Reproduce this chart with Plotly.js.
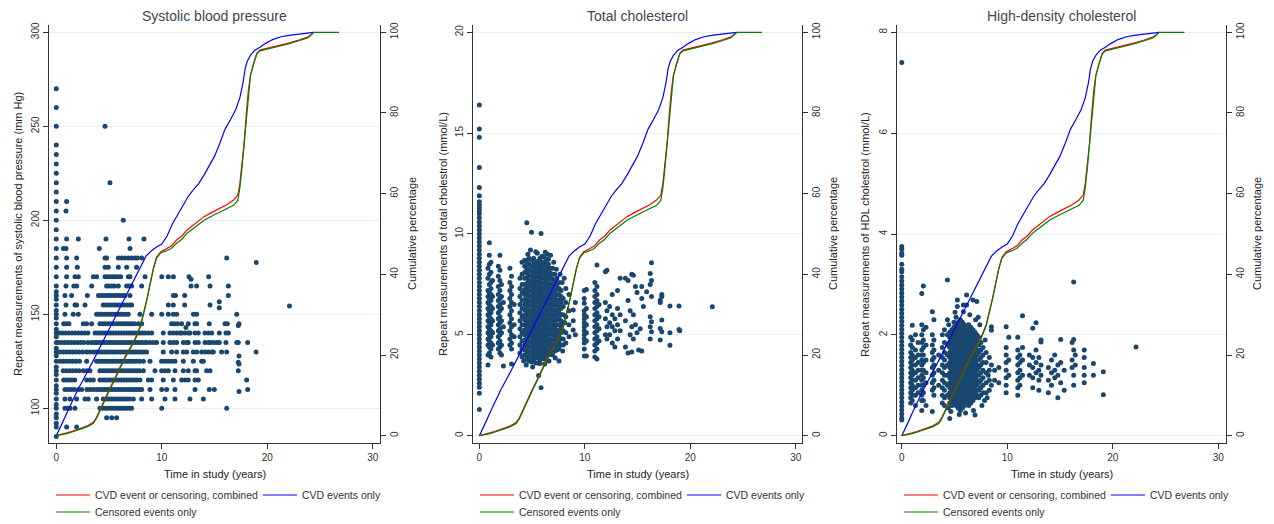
<!DOCTYPE html>
<html><head><meta charset="utf-8">
<script src="https://cdn.plot.ly/plotly-3.0.1.min.js"></script>
<style>html,body{margin:0;padding:0;background:#fff}#chart{width:1274px;height:524px}</style>
</head><body><div id="chart"></div>
<script>
// ---------- Panel titles / axis titles ----------
const panelTitles = ["Systolic blood pressure", "Total cholesterol", "High-density cholesterol"];
const leftTitles = ["Repeat measurements of systolic blood pressure (mm Hg)",
  "Repeat measurements of total cholestrol (mmol/L)",
  "Repeat measurements of HDL cholestrol (mmol/L)"];
const rightTitle = "Cumulative percentage";
const xTitle = "Time in study (years)";
const seriesNames = ["CVD event or censoring, combined", "CVD events only", "Censored events only"];
const xTicks = [0, 10, 20, 30];
const sbpTicks = [100, 150, 200, 250, 300];
const tcTicks = [0, 5, 10, 15, 20];
const hdlTicks = [0, 2, 4, 6, 8];
const pctTicks = [0, 20, 40, 60, 80, 100];

// ---------- Cumulative percentage curves (years, %) ----------
const redT = [0,0.5,1.0,1.5,2.0,2.5,3.0,3.5,3.8,4.1,4.5,5.0,5.5,6.0,6.5,7.0,7.5,8.0,8.3,8.6,8.9,9.2,9.5,9.9,10.4,10.9,11.4,11.9,12.4,12.9,13.4,14.0,14.7,15.5,16.2,16.8,17.2,17.4,17.6,17.8,18.0,18.2,18.4,18.7,19.0,19.3,20.0,21.0,22.0,23.0,23.8,24.1,24.4];
const redPct = [0,0.3,0.7,1.1,1.5,2.0,2.5,3.3,4.5,6.3,8.4,11.3,14.0,16.8,19.5,21.8,24.2,27.5,30.5,34.0,37.8,41.5,44.2,45.6,46.3,47.0,48.5,49.5,51.0,52.0,53.2,54.3,55.3,56.4,57.3,58.4,59.6,62.5,67.0,72.5,79.5,85.5,89.3,92.4,94.8,95.6,96.0,96.6,97.3,98.1,98.8,99.3,100];
const blueT = [0,0.3,0.6,1.0,1.5,2.0,2.5,3.0,3.5,4.0,4.5,5.0,5.5,6.0,6.5,7.0,7.5,8.0,8.5,9.0,9.5,10.0,10.5,11.0,11.5,12.0,12.5,13.0,13.5,14.0,14.5,15.0,15.5,16.0,16.5,17.0,17.4,17.7,17.9,18.1,18.4,18.8,19.3,19.8,20.5,21.3,22.2,23.0,23.8,24.4];
const bluePct = [0,1.5,3.3,5.6,8.6,11.2,13.6,16.0,18.6,21.2,23.8,26.6,29.3,31.8,34.2,36.8,39.5,42.3,44.5,45.8,46.8,47.5,49.5,52.5,54.8,57.2,59.3,61.0,62.5,64.6,67.0,69.3,72.5,76.0,78.3,80.8,83.8,87.5,91.0,92.8,94.3,95.5,96.3,97.2,98.2,98.9,99.3,99.5,99.7,100];
const greenT = [0,0.5,1.0,1.5,2.0,2.5,3.0,3.5,3.8,4.1,4.5,5.0,5.5,6.0,6.5,7.0,7.5,8.0,8.3,8.6,8.9,9.2,9.5,9.9,10.4,10.9,11.4,11.9,12.4,12.9,13.4,14.0,14.7,15.5,16.2,16.8,17.2,17.4,17.6,17.8,18.0,18.2,18.4,18.7,19.0,19.3,20.0,21.0,22.0,23.0,23.8,24.1,24.4,26.8];
const greenPct = [0,0.2,0.5,0.9,1.3,1.8,2.3,3.0,4.2,6.0,8.1,11.0,13.7,16.5,19.2,21.5,23.9,27.2,30.2,33.8,37.6,41.3,44.0,45.3,45.8,46.4,47.7,48.7,50.2,51.2,52.3,53.4,54.4,55.4,56.2,57.1,58.3,61.5,66.5,72.2,79.3,85.4,89.2,92.3,94.6,95.4,95.8,96.4,97.1,97.9,98.6,99.2,100,100];

// ---------- Systolic blood pressure: levels (mm Hg) and times (years) ----------
const sbpLevels = [85,90,95,100,105,110,115,120,125,130,135,140,145,150,155,160,165,170,175,180,185,190,195,200,205,210,215,220,225,230,235,240,250,260,270];
const sbpTimes = [
 [0],
 [0,0.98,1.93],
 [0,4.77,5.25,5.72],
 [0,0.82,1.05,1.3,1.77,4.14,4.4,4.65,4.9,5.15,5.4,5.65,5.9,6.15,6.4,6.65,6.9,7.14,9.99,16.15],
 [0,0.82,1.3,1.93,2.72,3.03,3.82,4.45,4.7,4.95,5.2,5.45,5.7,5.95,6.2,6.45,6.7,6.95,7.3,8.09,9.04,10.3,11.25,12.67,13.94],
 [0,0.82,1.1,1.4,1.7,2.1,2.4,2.9,3.2,3.5,3.82,4.1,4.35,4.6,4.85,5.1,5.35,5.6,5.85,6.1,6.35,6.6,6.85,7.1,7.35,7.6,7.85,8.09,8.88,9.99,10.46,11.25,13.15,14.5,14.98,18.14],
 [0,0.7,0.95,1.2,1.45,1.75,2.88,3.2,3.51,4.14,4.4,4.65,4.9,5.15,5.4,5.65,5.9,6.15,6.4,6.65,6.9,7.15,7.4,7.65,7.93,8.72,9.04,10.14,11.09,11.88,12.2,12.51,13.15,13.46,18.04],
 [0,0.66,0.95,1.25,1.55,1.85,2.15,2.56,2.88,3.19,4.14,4.4,4.65,4.9,5.15,5.4,5.65,5.9,6.15,6.4,6.65,6.9,7.15,7.4,7.65,7.9,8.25,9.35,9.98,10.3,10.62,11.25,12.04,12.51,13.15,13.3,14.25,14.57,17.25],
 [0,0.35,0.65,0.95,1.25,1.55,1.85,2.2,2.88,3.82,4.1,4.35,4.6,4.85,5.1,5.35,5.6,5.85,6.1,6.35,6.6,6.85,7.1,7.35,7.6,7.9,8.25,8.88,9.98,10.3,10.62,10.93,11.25,12.04,12.99,13.78,13.94],
 [0,0.35,0.65,0.95,1.25,1.55,1.85,2.15,2.5,2.88,3.19,3.51,3.8,4.05,4.3,4.55,4.8,5.05,5.3,5.55,5.8,6.05,6.3,6.55,6.8,7.05,7.3,7.55,7.8,8.05,8.3,8.56,10.14,10.93,11.41,12.04,12.36,12.99,13.3,13.78,14.09,14.41,14.73,14.88,15.67,16.15,18.93],
 [0,0.2,0.5,0.8,1.1,1.4,1.7,2.0,2.3,2.6,3.0,3.35,3.6,3.85,4.1,4.35,4.6,4.85,5.1,5.35,5.6,5.85,6.1,6.35,6.6,6.85,7.1,7.35,7.6,7.85,8.1,8.35,8.56,8.88,9.2,9.51,10.14,10.77,11.1,11.41,12.04,12.36,12.51,13.15,13.46,14.09,14.41,14.57,14.88,15.2,15.45,16.08,17.1,17.25,18.14],
 [0,0.3,0.6,0.9,1.2,1.5,1.8,2.1,2.4,2.7,3.0,3.67,3.9,4.15,4.4,4.65,4.9,5.15,5.4,5.65,5.9,6.15,6.4,6.65,6.9,7.15,7.4,7.65,7.9,8.15,8.4,8.72,9.04,10.14,10.77,11.1,11.41,11.72,11.88,12.2,12.51,12.67,13.15,13.46,14.09,14.41,14.73,15.45,16.08,16.31],
 [0,0.7,0.95,1.2,2.56,2.88,3.35,4.14,4.4,4.65,4.9,5.15,5.4,5.65,5.9,6.15,6.4,6.65,6.9,7.15,7.4,7.77,8.09,10.93,11.2,11.5,11.88,12.51,13.14,13.3,14.5,15.99,16.21,17.32],
 [0,0.82,1.61,2.09,3.82,4.07,4.32,4.57,4.82,5.07,5.32,5.57,5.82,6.07,6.32,6.57,6.82,7.93,9.04,9.99,10.62,11.09,11.41,13.0,13.3,17.1],
 [0,0.92,1.77,1.93,2.72,4.45,4.7,4.95,5.2,5.45,5.7,5.95,6.2,6.45,6.7,6.95,7.14,10.62,11.09,12.17,14.57],
 [0,0.82,1.45,2.94,4.0,4.25,4.5,4.75,5.0,5.25,5.5,5.75,6.0,6.25,6.5,6.98,11.1,11.3,12.17,16.31],
 [0,0.92,1.67,1.93,3.35,4.77,5.0,5.25,5.5,5.88,6.67,6.92,7.14,8.09,12.77,13.3,14.57,16.31],
 [0,0.98,1.77,2.09,3.51,3.82,4.62,4.85,5.1,5.35,5.6,5.85,6.1,6.83,6.98,8.41,10.0,10.62,11.1,12.58,14.44],
 [0,0.98,1.99,4.62,4.93,5.88,6.67,7.61],
 [0,0.98,1.93,4.62,4.77,5.88,6.2,6.51,6.83,7.14,7.46,7.68,8.09,16.15],
 [0,0.67,0.92,4.08,6.99],
 [0,0.98,2.09,4.71,6.89,8.31],
 [0],[0,6.35],[0,0.92],[0,0.98],[0],[0,5.09],[0],[0],[0],[0],[0,4.62],[0],[0]
];
const sbpExtraT = [0,0,0,0,0,0,0,0,0,0,0,0,0,0,0,18.95,12.77,15.45,15.45,22.1,12.29,17.25,17.32,17.25,17.32,17.32];
const sbpExtraV = [92,97,102,108,112,118,122,128,132,138,142,148,152,158,162,177.5,168.6,156.7,153.5,154.4,143,144,127.8,124.5,123.5,109];

// ---------- Total cholesterol: visit times (years) and values (mmol/L) ----------
const tcT = [0,0.82,0.95,1.1,1.25,1.8,1.95,2.1,2.28,2.9,3.05,3.3,3.85,4.05,
 4.3,4.5,4.7,4.95,5.15,5.35,5.55,5.62,5.75,5.85,5.95,6.15,6.35,6.55,6.75,6.95,7.15,7.35,7.55,7.75,7.95,
 8.2,8.5,8.9,9.1,9.95,10.15,10.95,11.15,11.35,11.95,12.1,12.35,12.6,12.85,13.1,13.35,13.85,14.1,14.3,14.45,14.6,14.8,14.95,15.1,15.25,15.4,15.55,15.86,16.2,16.32,17.15,17.3,18.07,18.93,19.0,22.09];
const tcV = [
 [16.4,15.2,14.8,13.3,12.3,11.9,11.6,11.45,11.3,11.15,11.0,10.8,10.6,10.4,10.2,10.0,9.8,9.6,9.4,9.2,9.0,8.8,8.6,8.4,8.2,8.0,7.8,7.6,7.4,7.2,7.0,6.8,6.6,6.4,6.2,6.0,5.8,5.6,5.4,5.2,5.0,4.8,4.6,4.4,4.2,4.0,3.8,3.6,3.4,3.2,3.0,2.8,2.6,2.4,2.1,1.3],
 [8.3,7.8,7.2,6.9,6.6,6.3,6.0,5.7,5.4,5.1,4.8,4.5,4.0,3.5],
 [9.56,8.95,8.5,8.0,7.5,7.1,6.8,6.5,6.2,5.9,5.6,5.3,5.0,4.7,4.4,4.1],
 [8.6,8.1,7.6,7.3,7.0,6.7,6.4,6.1,5.8,5.5,5.2,4.9,4.6,4.3,3.9],
 [7.7,6.9,6.3,5.7,5.1,4.5],
 [8.4,7.9,7.4,7.0,6.7,6.4,6.1,5.8,5.5,5.2,4.9,4.6,4.3],
 [8.95,8.2,7.7,7.2,6.8,6.5,6.2,5.9,5.6,5.3,5.0,4.7,4.4,4.1],
 [7.5,6.9,6.3,5.7,5.1,4.5,4.0],
 [6.6,5.4,3.45],
 [8.3,7.6,7.2,6.8,6.4,6.0,5.6,5.2,4.8,4.5],
 [7.9,7.4,7.0,6.6,6.2,5.8,5.4,5.0,4.6,4.3,3.55],
 [6.5,5.5,4.9],
 [7.8,7.3,6.9,6.5,6.1,5.7,5.3,4.9,4.5,4.1],
 [8.6,8.0,7.5,7.1,6.7,6.3,5.9,5.5,5.1,4.7,4.3,3.9],
 [8.7,8.4,8.1,7.8,7.5,7.25,7.0,6.75,6.5,6.25,6.0,5.75,5.5,5.25,5.0,4.75,4.5,4.25,4.0],
 [10.56,8.6,8.3,8.05,7.8,7.55,7.3,7.05,6.8,6.55,6.3,6.05,5.8,5.55,5.3,5.05,4.8,4.55,4.3,4.05,3.8],
 [8.8,8.5,8.2,7.95,7.7,7.45,7.2,6.95,6.7,6.45,6.2,5.95,5.7,5.45,5.2,4.95,4.7,4.45,4.2,3.95,3.7],
 [10.08,8.7,8.4,8.15,7.9,7.65,7.4,7.15,6.9,6.65,6.4,6.15,5.9,5.65,5.4,5.15,4.9,4.65,4.4,4.15,3.9,3.65],
 [8.8,8.5,8.25,8.0,7.75,7.5,7.25,7.0,6.75,6.5,6.25,6.0,5.75,5.5,5.25,5.0,4.75,4.5,4.25,4.0,3.75],
 [9.12,8.6,8.35,8.1,7.85,7.6,7.35,7.1,6.85,6.6,6.35,6.1,5.85,5.6,5.35,5.1,4.85,4.6,4.35,4.1,3.85,3.6],
 [8.65,8.4,8.15,7.9,7.65,7.4,7.15,6.9,6.65,6.4,6.15,5.9,5.65,5.4,5.15,4.9,4.65,4.4,4.15,3.9,3.6],
 [2.98],
 [8.8,8.5,8.25,8.0,7.75,7.5,7.25,7.0,6.75,6.5,6.25,6.0,5.75,5.5,5.25,5.0,4.75,4.5,4.25,4.0,3.75,3.58],
 [10.03,2.38],
 [8.9,8.6,8.35,8.1,7.85,7.6,7.35,7.1,6.85,6.6,6.35,6.1,5.85,5.6,5.35,5.1,4.85,4.6,4.35,4.1,3.85],
 [8.85,8.55,8.3,8.05,7.8,7.55,7.3,7.05,6.8,6.55,6.3,6.05,5.8,5.55,5.3,5.05,4.8,4.55,4.3,4.05,3.8],
 [8.7,8.45,8.2,7.95,7.7,7.45,7.2,6.95,6.7,6.45,6.2,5.95,5.7,5.45,5.2,4.95,4.7,4.45,4.2,3.95],
 [8.75,8.5,8.25,8.0,7.75,7.5,7.25,7.0,6.75,6.5,6.25,6.0,5.75,5.5,5.25,5.0,4.75,4.5,4.25,4.0],
 [8.95,8.3,8.05,7.8,7.55,7.3,7.05,6.8,6.55,6.3,6.05,5.8,5.55,5.3,5.05,4.8,4.55,4.3,4.05],
 [8.3,8.0,7.75,7.5,7.25,7.0,6.75,6.5,6.25,6.0,5.75,5.5,5.25,5.0,4.75,4.5,4.25,4.0],
 [8.0,7.7,7.45,7.2,6.95,6.7,6.45,6.2,5.95,5.7,5.45,5.2,4.95,4.7,4.45,4.2],
 [7.8,7.5,7.25,7.0,6.75,6.5,6.25,6.0,5.75,5.5,5.25,5.0,4.75,4.5,4.25],
 [7.6,7.3,7.0,6.7,6.4,6.1,5.8,5.5,5.2,4.9,4.6,4.3,3.7],
 [7.2,6.9,6.6,6.3,6.0,5.7,5.4,5.1,4.8,4.5],
 [6.8,6.4,6.0,5.6,5.2,4.8,4.5],
 [7.3,6.6,5.9,5.1,4.6],
 [7.0,6.2,5.5,4.9],
 [6.23,5.7,5.24],
 [6.6,5.0],
 [7.2,6.8,6.56,6.2,6.0,5.8,5.6,5.4,5.2,5.0,4.8,4.6,4.3,3.95],
 [7.25,6.3,5.9,5.5,5.1,4.7,3.95],
 [7.6,7.2,6.9,6.6,6.3,6.0,5.7,5.4,5.1,4.8,4.5,4.2,3.9],
 [8.46,7.4,7.0,6.7,6.4,6.1,5.8,5.5,5.2,4.9,4.6,4.3,3.8],
 [6.5,5.9,5.3,4.7],
 [8.13,6.6,5.8,5.0],
 [8.2,6.2,5.4,4.8],
 [6.4,5.6,5.0],
 [7.0,6.0,5.4,4.6],
 [5.8,5.2,4.4],
 [7.2,6.3,5.5,4.8],
 [7.8,6.0,5.2],
 [7.8,5.7,4.4],
 [7.7,6.7,4.1],
 [6.2,5.0],
 [8.0,5.4,4.15],
 [7.96,6.0,4.8],
 [7.4,5.5],
 [7.1,5.1],
 [4.25],
 [5.3],
 [7.4,6.8,4.2],
 [6.4],
 [7.13],
 [8.04,7.5,5.9,5.4,4.8],
 [8.57,7.7,6.9,5.65,5.15],
 [6.72,6.6,5.32,4.74],
 [7.0,6.9,5.73,5.15],
 [6.43,5.1,4.49],
 [6.43,5.27],
 [5.2],
 [6.39]
];
const tcExtraT = [4.6,5.5,6.25,7.05,7.3,7.85,8.05,4.2,6.6,7.2,7.9,4.45,5.05,6.2,4.85,6.45,7.65,8.1];
const tcExtraV = [9.0,9.05,9.1,8.6,8.25,7.6,7.8,3.7,3.7,3.85,4.2,3.5,3.4,3.55,9.2,9.0,8.0,5.6];

// ---------- HDL cholesterol: visit times (years) and values (mmol/L) ----------
const hdlT = [0,0.85,1.0,1.3,1.55,1.9,2.05,2.3,2.9,3.05,3.5,3.85,4.05,4.33,
 4.55,4.75,4.95,5.15,5.27,5.35,5.55,5.75,5.84,5.95,6.15,6.35,6.55,6.75,6.95,7.12,7.3,7.5,7.7,
 8.0,8.3,8.5,8.8,9.2,9.9,10.15,11.0,11.2,11.45,12.1,12.42,12.73,13.0,13.2,13.9,14.2,14.5,14.8,15.07,15.4,16.15,16.3,16.45,17.3,18.17,19.11,22.21];
const hdlV = [
 [7.4,3.75,3.7,3.62,3.58,3.4,3.3,3.25,3.15,3.07,2.99,2.91,2.83,2.75,2.67,2.59,2.51,2.43,2.35,2.27,2.19,2.11,2.03,1.95,1.87,1.79,1.71,1.63,1.55,1.47,1.39,1.31,1.23,1.15,1.07,0.99,0.91,0.83,0.75,0.67,0.59,0.51,0.43,0.35,0.31],
 [1.95,1.8,1.65,1.55,1.45,1.35,1.25,1.15,1.05,0.95,0.85,0.75,0.65],
 [2.19,1.9,1.75,1.6,1.5,1.4,1.3,1.2,1.1,1.0,0.9,0.8,0.7],
 [2.0,1.7,1.55,1.4,1.25,1.1,0.95,0.8,0.6],
 [1.85,1.6,1.45,1.3,1.15,1.0,0.85],
 [2.82,2.2,2.0,1.85,1.7,1.6,1.5,1.4,1.3,1.2,1.1,1.0,0.9,0.8,0.7,0.5],
 [2.97,2.1,1.9,1.75,1.6,1.45,1.3,1.15,1.0,0.85,0.7],
 [2.15,1.8,1.5,1.25,1.05,0.6],
 [2.46,2.0,1.8,1.65,1.5,1.35,1.2,1.05,0.9,0.48],
 [2.3,1.9,1.7,1.55,1.4,1.25,1.1,0.95,0.8],
 [1.6,1.3,1.0],
 [2.0,1.75,1.55,1.4,1.25,1.1,0.95,0.8,0.65],
 [2.1,1.85,1.65,1.5,1.35,1.2,1.05,0.9,0.75,0.6],
 [3.09,2.3,2.0,1.8,1.6,1.4,1.2,1.0,0.8],
 [2.05,1.95,1.85,1.75,1.65,1.55,1.45,1.35,1.25,1.15,1.05,0.95,0.85,0.75,0.65,0.34],
 [2.1,2.0,1.9,1.8,1.7,1.6,1.5,1.4,1.3,1.2,1.1,1.0,0.9,0.8,0.7,0.6],
 [2.25,2.15,2.05,1.95,1.85,1.75,1.65,1.55,1.45,1.35,1.25,1.15,1.05,0.95,0.85,0.75,0.65],
 [2.35,2.2,2.1,2.0,1.9,1.8,1.7,1.6,1.5,1.4,1.3,1.2,1.1,1.0,0.9,0.8,0.7,0.6],
 [2.69,2.56],
 [2.25,2.15,2.05,1.95,1.85,1.75,1.65,1.55,1.45,1.35,1.25,1.15,1.05,0.95,0.85,0.75,0.65,0.55],
 [2.3,2.2,2.1,2.0,1.9,1.8,1.7,1.6,1.5,1.4,1.3,1.2,1.1,1.0,0.9,0.8,0.7,0.6,0.5],
 [2.25,2.15,2.05,1.95,1.85,1.75,1.65,1.55,1.45,1.35,1.25,1.15,1.05,0.95,0.85,0.75,0.65,0.55],
 [2.59,2.46],
 [2.2,2.1,2.0,1.9,1.8,1.7,1.6,1.5,1.4,1.3,1.2,1.1,1.0,0.9,0.8,0.7,0.6],
 [2.79,2.59,2.15,2.05,1.95,1.85,1.75,1.65,1.55,1.45,1.35,1.25,1.15,1.05,0.95,0.85,0.75,0.65],
 [2.2,2.1,2.0,1.9,1.8,1.7,1.6,1.5,1.4,1.3,1.2,1.1,1.0,0.9,0.8,0.7,0.6],
 [2.15,2.05,1.95,1.85,1.75,1.65,1.55,1.45,1.35,1.25,1.15,1.05,0.95,0.85,0.75,0.65],
 [2.69,2.1,2.0,1.9,1.8,1.7,1.6,1.5,1.4,1.3,1.2,1.1,1.0,0.9,0.8,0.7],
 [2.05,1.95,1.85,1.75,1.65,1.55,1.45,1.35,1.25,1.15,1.05,0.95,0.85,0.75,0.41],
 [2.66,2.0,1.9,1.8,1.7,1.6,1.5,1.4,1.3,1.2,1.1,1.0,0.9,0.8],
 [1.95,1.8,1.65,1.5,1.35,1.2,1.05,0.9,0.75],
 [1.85,1.7,1.55,1.4,1.25,1.1,0.95,0.8],
 [1.75,1.6,1.45,1.3,1.15,1.0,0.85],
 [1.65,1.45,1.25,1.05,0.85],
 [1.55,1.3,1.1,0.9],
 [2.16,2.09,1.4,1.0],
 [1.3,1.1],
 [1.35,1.05],
 [2.16,1.75,1.6,1.45,1.3,1.15,1.0,0.85],
 [1.95,1.5,1.2],
 [1.95,1.7,1.55,1.4,1.25,1.1,0.95,0.8],
 [1.6,1.45,1.3,1.15,1.0],
 [2.38,1.75,1.5,1.2],
 [1.6,1.4,1.2],
 [2.13,1.55,1.35,1.15,0.95],
 [2.24,1.7,1.45,1.25],
 [1.55,1.3,1.1,0.9],
 [1.9,1.86,1.4,1.2],
 [1.35,1.1,0.85],
 [1.5,1.25,1.0],
 [1.6,1.3,1.15],
 [1.4,1.2,0.75],
 [1.91,1.45,1.05],
 [1.3,0.9],
 [1.85,1.5,1.35],
 [3.05,1.91,1.7,1.2,1.0],
 [1.6,1.4],
 [1.7,1.55,1.35,1.2,1.05],
 [1.43,1.2],
 [1.27,0.81],
 [1.76]
];
const hdlExtraT = [7.9,8.1,7.6,7.4,4.45,4.65,6.05,5.45,7.0,6.45,5.05,8.2,7.85,4.4,6.8,7.25];
const hdlExtraV = [1.9,0.75,0.6,2.2,2.2,0.48,0.45,0.42,2.3,2.4,2.45,1.2,0.7,0.55,0.5,2.35];

// ---------- build marker arrays from the tables ----------
function fromRows(levels, times) {
  const x = [], y = [];
  levels.forEach((lv, i) => times[i].forEach(t => { x.push(t); y.push(lv); }));
  return {x, y};
}
function fromCols(ts, vals) {
  const x = [], y = [];
  ts.forEach((t, i) => vals[i].forEach(v => { x.push(t); y.push(v); }));
  return {x, y};
}
const sbpPts = fromRows(sbpLevels, sbpTimes);
sbpPts.x = sbpPts.x.concat(sbpExtraT); sbpPts.y = sbpPts.y.concat(sbpExtraV);
const tcPts = fromCols(tcT, tcV);
tcPts.x = tcPts.x.concat(tcExtraT); tcPts.y = tcPts.y.concat(tcExtraV);
const hdlPts = fromCols(hdlT, hdlV);
hdlPts.x = hdlPts.x.concat(hdlExtraT); hdlPts.y = hdlPts.y.concat(hdlExtraV);

// ---------- layout geometry ----------
const W = 1274, H = 524;
const FONT = "Liberation Sans, Arial, sans-serif";
const panelsPx = [[49, 380], [473, 802], [897, 1226]];
const plotTop = 25, plotBot = 442.7;
const yDom = [1 - plotBot / H, 1 - plotTop / H];
const xRanges = [[-0.69, 30.68], [-0.6, 30.59], [-0.45, 30.74]];
const leftRanges = [[81.7, 303.9], [-0.347, 20.36], [-0.139, 8.145]];
const leftTicks = [sbpTicks, tcTicks, hdlTicks];
const pctRange = [-1.74, 101.81];
const pts = [sbpPts, tcPts, hdlPts];
const leftTitleX = [18, 443, 865];
const rightTitleX = [412, 833, 1257];
const COLORS = {red: "#ff0000", blue: "#0000ff", green: "#008000", dot: "#1a476f"};

const traces = [];
const layout = {
  width: W, height: H, margin: {l: 0, r: 0, t: 0, b: 0, autoexpand: false},
  paper_bgcolor: "#ffffff", plot_bgcolor: "#ffffff",
  font: {family: FONT, size: 11, color: "#333"},
  showlegend: true, annotations: []
};

const axLine = "#333";
for (let p = 0; p < 3; p++) {
  const xa = p === 0 ? "x" : "x" + (p + 1);
  const yl = p === 0 ? "y" : "y" + (2 * p + 1);
  const yr = "y" + (2 * p + 2);
  const xKey = p === 0 ? "xaxis" : "xaxis" + (p + 1);
  const ylKey = p === 0 ? "yaxis" : "yaxis" + (2 * p + 1);
  const yrKey = "yaxis" + (2 * p + 2);
  const lgA = p === 0 ? "legend" : "legend" + (2 * p + 1);
  const lgB = "legend" + (2 * p + 2);
  const [px0, px1] = panelsPx[p];

  traces.push({type: "scatter", mode: "markers", x: pts[p].x, y: pts[p].y, xaxis: xa, yaxis: yl,
    marker: {color: COLORS.dot, size: 5, line: {width: 0}}, showlegend: false, hoverinfo: "skip"});
  traces.push({type: "scatter", mode: "lines", x: redT, y: redPct, xaxis: xa, yaxis: yr, name: seriesNames[0],
    line: {color: COLORS.red, width: 1.2}, legend: lgA});
  traces.push({type: "scatter", mode: "lines", x: blueT, y: bluePct, xaxis: xa, yaxis: yr, name: seriesNames[1],
    line: {color: COLORS.blue, width: 1.2}, legend: lgA});
  traces.push({type: "scatter", mode: "lines", x: greenT, y: greenPct, xaxis: xa, yaxis: yr, name: seriesNames[2],
    line: {color: COLORS.green, width: 1.2}, legend: lgB});

  layout[xKey] = {domain: [px0 / W, px1 / W], anchor: yl, range: xRanges[p], tickvals: xTicks,
    ticks: "outside", ticklen: 5, tickcolor: axLine, showline: true, linecolor: axLine, linewidth: 1,
    showgrid: false, zeroline: false, tickfont: {size: 10, color: "#333"}, fixedrange: true};
  layout[ylKey] = {domain: yDom, anchor: xa, range: leftRanges[p], tickvals: leftTicks[p], tickangle: -90,
    ticks: "outside", ticklen: 5, tickcolor: axLine, showline: true, linecolor: axLine, linewidth: 1,
    showgrid: true, gridcolor: "#e8eff1", gridwidth: 1, zeroline: false, tickfont: {size: 10, color: "#333"}, fixedrange: true};
  layout[yrKey] = {overlaying: yl, side: "right", anchor: xa, range: pctRange, tickvals: pctTicks, tickangle: -90,
    ticks: "outside", ticklen: 5, tickcolor: axLine, showline: true, linecolor: axLine, linewidth: 1,
    showgrid: false, zeroline: false, tickfont: {size: 10, color: "#333"}, fixedrange: true};

  const lgBase = {orientation: "h", xref: "paper", yref: "paper", xanchor: "left", yanchor: "middle",
    bgcolor: "rgba(0,0,0,0)", borderwidth: 0, font: {family: FONT, size: 10.5, color: "#333"},
    entrywidth: 158, entrywidthmode: "pixels", itemwidth: 34, traceorder: "normal"};
  layout[lgA] = Object.assign({}, lgBase, {x: (px0 + 2) / W, y: 1 - 495 / H});
  layout[lgB] = Object.assign({}, lgBase, {x: (px0 + 2) / W, y: 1 - 512 / H});

  const cx = (px0 + px1) / 2;
  layout.annotations.push({text: panelTitles[p], xref: "paper", yref: "paper", x: cx / W, y: 1 - 16 / H,
    showarrow: false, xanchor: "center", yanchor: "middle", font: {family: FONT, size: 14, color: "#3c4656"}});
  layout.annotations.push({text: xTitle, xref: "paper", yref: "paper", x: cx / W, y: 1 - 474 / H,
    showarrow: false, xanchor: "center", yanchor: "middle", font: {family: FONT, size: 11, color: "#222"}});
  layout.annotations.push({text: leftTitles[p], xref: "paper", yref: "paper", x: leftTitleX[p] / W, y: 1 - 234 / H,
    showarrow: false, textangle: -90, xanchor: "center", yanchor: "middle", font: {family: FONT, size: 11, color: "#222"}});
  layout.annotations.push({text: rightTitle, xref: "paper", yref: "paper", x: rightTitleX[p] / W, y: 1 - 234 / H,
    showarrow: false, textangle: -90, xanchor: "center", yanchor: "middle", font: {family: FONT, size: 11, color: "#222"}});
}

Plotly.newPlot("chart", traces, layout, {displayModeBar: false, staticPlot: true});
</script></body></html>
